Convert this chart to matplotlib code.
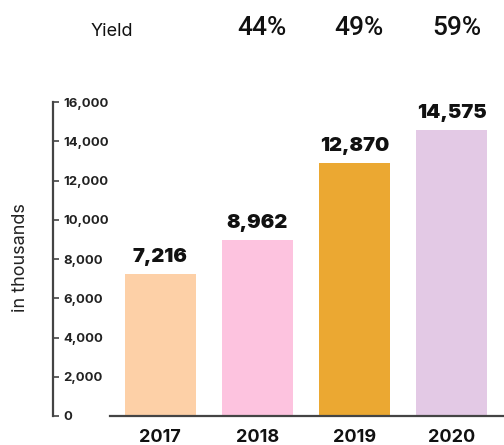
import matplotlib.pyplot as plt
import numpy as np

years = ['2017', '2018', '2019', '2020']
values = [7216, 8962, 12870, 14575]
yield_pct = ['', '44%', '49%', '59%']
colors = ['#FDD0A7', '#FDC3DF', '#EBA832', '#E3C9E5']
yticks = np.arange(0, 16001, 2000)

plt.rcParams['font.family'] = ['Inter', 'DejaVu Sans']

fig = plt.figure(figsize=(5.04, 4.45), dpi=100)
ax = fig.add_axes([0.218, 1 - 416 / 445, 0.78, (416 - 102) / 445])

x = np.arange(len(years))
bars = ax.bar(x, values, width=0.73, color=colors)
ax.set_xlim(-0.52, 3.53)
ax.set_ylim(0, 16000)

# value labels above the bars
ax.bar_label(bars, labels=[f'{v:,}' for v in values], padding=6,
             fontsize=14.5, fontweight='black', color='#111111')

# spines
for s in ['top', 'right']:
    ax.spines[s].set_visible(False)
ax.spines['left'].set_position(('outward', 41))
ax.spines['left'].set_color('#444444')
ax.spines['left'].set_linewidth(1.6)
ax.spines['bottom'].set_color('#444444')
ax.spines['bottom'].set_linewidth(1.6)

ax.set_yticks(yticks)
ax.set_yticklabels([f'{t:,}' for t in yticks], ha='left')
ax.tick_params(axis='y', direction='in', length=4, width=1.2, color='#444444',
               pad=-7.5, labelsize=9.5, labelcolor='#222222')
for lbl in ax.get_yticklabels():
    lbl.set_fontweight('bold')

ax.set_xticks(x)
ax.set_xticklabels(years)
ax.tick_params(axis='x', length=0, pad=9, labelsize=13, labelcolor='#111111')
for lbl in ax.get_xticklabels():
    lbl.set_fontweight('bold')

fig.text(0.04, 1 - 258 / 445, 'in thousands', rotation=90, ha='center',
         va='center', fontsize=13, color='#222222')

# yield row on top
fig.text(112 / 504, 1 - 32 / 445, 'Yield', ha='center', va='center',
         fontsize=13, color='#111111')
for i, p in enumerate(yield_pct):
    if p:
        xd = ax.transData.transform((x[i] + 0.05, 0))[0] / fig.bbox.width
        fig.text(xd, 1 - 28 / 445, p, ha='center', va='center', fontsize=19,
                 color='#111111', family=['Roboto', 'DejaVu Sans'],
                 fontweight='medium')

fig.savefig('out.png', dpi=100)
